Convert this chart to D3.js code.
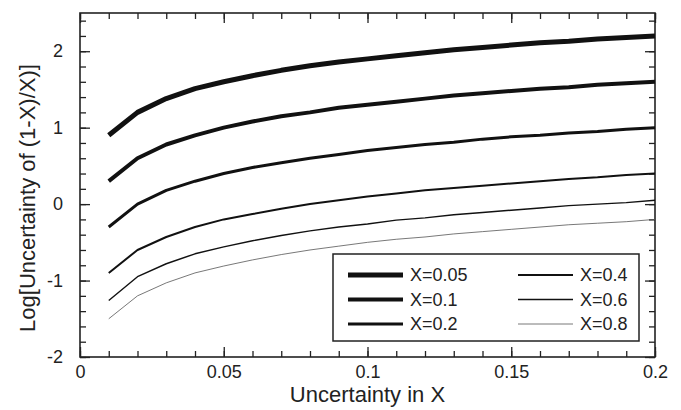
<!DOCTYPE html>
<html>
<head>
<meta charset="utf-8">
<script src="https://cdn.jsdelivr.net/npm/d3@7"></script>
<style>
  body { margin: 0; background: #fff; }
  text { font-family: "Liberation Sans", Arial, Helvetica, sans-serif; fill: #222; }
</style>
</head>
<body>
<div id="chart"></div>
<script>
// Chart values

var dx = [0.01, 0.02, 0.03, 0.04, 0.05, 0.06, 0.07, 0.08, 0.09, 0.10,
          0.11, 0.12, 0.13, 0.14, 0.15, 0.16, 0.17, 0.18, 0.19, 0.20];

var seriesNames = ["X=0.05", "X=0.1", "X=0.2", "X=0.4", "X=0.6", "X=0.8"];

var x005 = [0.90, 1.20, 1.38, 1.51, 1.60, 1.68, 1.75, 1.81, 1.86, 1.90,
            1.94, 1.98, 2.02, 2.05, 2.08, 2.11, 2.13, 2.16, 2.18, 2.20];
var x01  = [0.30, 0.60, 0.78, 0.90, 1.00, 1.08, 1.15, 1.20, 1.26, 1.30,
            1.34, 1.38, 1.42, 1.45, 1.48, 1.51, 1.53, 1.56, 1.58, 1.60];
var x02  = [-0.30, 0.00, 0.18, 0.30, 0.40, 0.48, 0.54, 0.60, 0.65, 0.70,
            0.74, 0.78, 0.81, 0.85, 0.88, 0.90, 0.93, 0.95, 0.98, 1.00];
var x04  = [-0.90, -0.60, -0.43, -0.30, -0.20, -0.13, -0.06, 0.00, 0.05, 0.10,
            0.14, 0.18, 0.21, 0.24, 0.27, 0.30, 0.33, 0.35, 0.38, 0.40];
var x06  = [-1.26, -0.95, -0.78, -0.65, -0.56, -0.48, -0.41, -0.35, -0.30, -0.26,
            -0.21, -0.18, -0.14, -0.11, -0.08, -0.05, -0.02, 0.00, 0.02, 0.05];
var x08  = [-1.50, -1.20, -1.03, -0.90, -0.81, -0.73, -0.66, -0.60, -0.55, -0.50,
            -0.46, -0.43, -0.39, -0.36, -0.33, -0.30, -0.27, -0.25, -0.23, -0.20];

var xTicks = [0, 0.05, 0.1, 0.15, 0.2];
var yTicks = [-2, -1, 0, 1, 2];

var series = [x005, x01, x02, x04, x06, x08];
var widths = [5, 4, 3, 2, 1.4, 0.8];
var colors = ["#111", "#111", "#111", "#111", "#111", "#555"];

// Set up the chart
var svgWidth = 681;
var svgHeight = 410;

var margin = { top: 13, right: 26, bottom: 53, left: 80 };

var width = svgWidth - margin.left - margin.right;
var height = svgHeight - margin.top - margin.bottom;

var svg = d3.select("#chart")
  .append("svg")
  .attr("width", svgWidth)
  .attr("height", svgHeight);

var chartGroup = svg.append("g")
  .attr("transform", `translate(${margin.left}, ${margin.top})`);

// Scales
var xScale = d3.scaleLinear().domain([0, 0.2]).range([0, width]);
var yScale = d3.scaleLinear().domain([-2, 2.5]).range([height, 0]);

var xMinor = d3.range(0, 0.2001, 0.01);
var yMinor = d3.range(-2, 2.5001, 0.2);

// Axes with inward ticks, minor then major, on all four sides
function drawAxis(axisFn, scale, values, size, fmt, transform) {
  var g = chartGroup.append("g")
    .attr("transform", transform)
    .call(axisFn(scale).tickValues(values).tickSizeInner(-size).tickSizeOuter(0)
      .tickPadding(size > 0 ? 9 : 6).tickFormat(fmt));
  g.select(".domain").remove();
  g.selectAll("line").attr("stroke", "#222").attr("stroke-width", 1.3);
  return g;
}

var none = function() { return ""; };

drawAxis(d3.axisBottom, xScale, xMinor, 6, none, `translate(0, ${height})`);
drawAxis(d3.axisTop, xScale, xMinor, 6, none, "translate(0, 0)");
drawAxis(d3.axisLeft, yScale, yMinor, 6, none, "translate(0, 0)");
drawAxis(d3.axisRight, yScale, yMinor, 6, none, `translate(${width}, 0)`);

var bx = drawAxis(d3.axisBottom, xScale, xTicks, 10, d => d, `translate(0, ${height})`);
bx.selectAll("text").style("font-size", "18px").attr("dy", "0.71em").attr("y", 8);
drawAxis(d3.axisTop, xScale, xTicks, 10, none, "translate(0, 0)");
var ly = drawAxis(d3.axisLeft, yScale, yTicks, 10, d => d, "translate(0, 0)");
ly.selectAll("text").style("font-size", "18px").attr("x", -17);
drawAxis(d3.axisRight, yScale, yTicks, 10, none, `translate(${width}, 0)`);

// Frame
chartGroup.append("rect")
  .attr("width", width)
  .attr("height", height)
  .attr("fill", "none")
  .attr("stroke", "#222")
  .attr("stroke-width", 1.6);

// Lines
var line = d3.line()
  .x((d, i) => xScale(dx[i]))
  .y(d => yScale(d));

chartGroup.selectAll(".series")
  .data(series)
  .enter()
  .append("path")
  .attr("class", "series")
  .attr("d", d => line(d))
  .attr("fill", "none")
  .attr("stroke", (d, i) => colors[i])
  .attr("stroke-width", (d, i) => widths[i])
  .attr("stroke-linejoin", "round");

// Legend
var legend = chartGroup.append("g")
  .attr("transform", `translate(${333 - margin.left}, ${254 - margin.top})`);

legend.append("rect")
  .attr("width", 306)
  .attr("height", 87)
  .attr("fill", "#fff")
  .attr("stroke", "#222")
  .attr("stroke-width", 1.5);

var items = legend.selectAll(".item")
  .data(seriesNames)
  .enter()
  .append("g")
  .attr("class", "item")
  .attr("transform", (d, i) => `translate(${i < 3 ? 15 : 185}, ${21 + (i % 3) * 24.5})`);

items.append("line")
  .attr("x1", 0)
  .attr("x2", 55)
  .attr("stroke", (d, i) => colors[i])
  .attr("stroke-width", (d, i) => widths[i]);

items.append("text")
  .attr("x", 62)
  .attr("dy", "0.35em")
  .style("font-size", "18px")
  .text(d => d);

// Axis titles
svg.append("text")
  .attr("x", margin.left + width / 2)
  .attr("y", 402)
  .attr("text-anchor", "middle")
  .style("font-size", "22px")
  .text("Uncertainty in X");

svg.append("text")
  .attr("transform", "translate(35, 198) rotate(-90)")
  .attr("text-anchor", "middle")
  .style("font-size", "22px")
  .text("Log[Uncertainty of (1-X)/X)]");
</script>
</body>
</html>
